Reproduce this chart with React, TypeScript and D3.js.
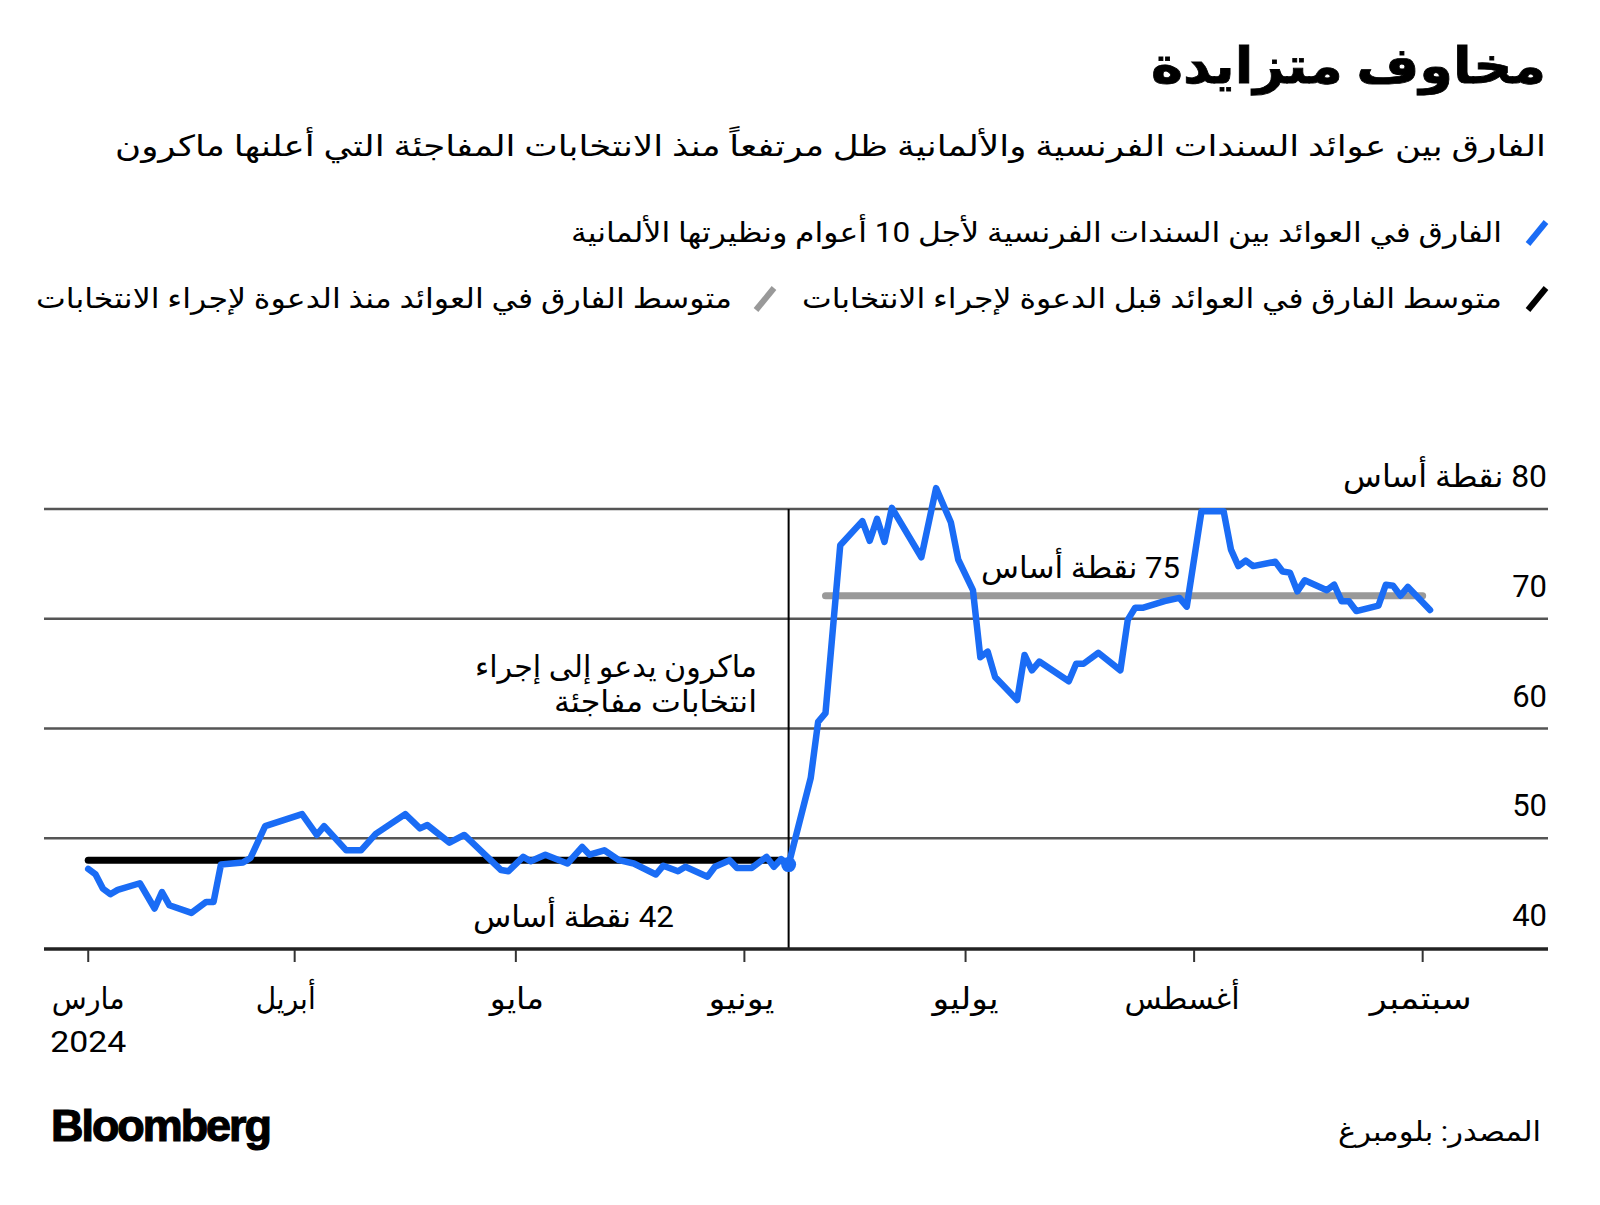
import React from "react";
import * as d3 from "d3";

// ---- data ----
const dates = [
  "2024-03-04","2024-03-05","2024-03-06","2024-03-07","2024-03-08","2024-03-11","2024-03-13","2024-03-14",
  "2024-03-15","2024-03-18","2024-03-20","2024-03-21","2024-03-22","2024-03-25","2024-03-26","2024-03-28",
  "2024-04-02","2024-04-04","2024-04-05","2024-04-08","2024-04-10","2024-04-12","2024-04-16","2024-04-18",
  "2024-04-19","2024-04-22","2024-04-24","2024-04-29","2024-04-30","2024-05-02","2024-05-03","2024-05-05",
  "2024-05-08","2024-05-10","2024-05-11","2024-05-13","2024-05-15","2024-05-17","2024-05-20","2024-05-21",
  "2024-05-23","2024-05-24","2024-05-27","2024-05-28","2024-05-30","2024-05-31","2024-06-02","2024-06-04",
  "2024-06-05","2024-06-06","2024-06-07","2024-06-10","2024-06-11","2024-06-12","2024-06-14","2024-06-17",
  "2024-06-18","2024-06-19","2024-06-20","2024-06-21","2024-06-25","2024-06-27","2024-06-29","2024-06-30",
  "2024-07-02","2024-07-03","2024-07-04","2024-07-05","2024-07-08","2024-07-09","2024-07-10","2024-07-11",
  "2024-07-15","2024-07-16","2024-07-17","2024-07-19","2024-07-22","2024-07-23","2024-07-24","2024-07-25",
  "2024-07-28","2024-07-30","2024-07-31","2024-08-02","2024-08-05","2024-08-06","2024-08-07","2024-08-08",
  "2024-08-09","2024-08-12","2024-08-13","2024-08-14","2024-08-15","2024-08-16","2024-08-19","2024-08-20",
  "2024-08-21","2024-08-22","2024-08-23","2024-08-26","2024-08-27","2024-08-28","2024-08-29","2024-08-30",
  "2024-09-02",
];
const spread = [
  47.2,46.7,45.4,44.9,45.3,45.9,43.6,45.1,
  43.9,43.2,44.2,44.2,47.6,47.8,48.2,51.1,
  52.2,50.3,51.1,48.9,48.9,50.4,52.2,50.9,
  51.2,49.6,50.3,47.1,47.0,48.3,47.9,48.5,
  47.7,49.2,48.5,48.9,48.0,47.7,46.7,47.5,
  47.0,47.4,46.5,47.4,48.0,47.3,47.3,48.3,
  47.4,48.1,47.6,55.5,60.6,61.4,76.7,78.9,
  77.1,79.1,77.0,80.1,75.6,81.9,78.8,75.4,
  72.6,66.5,67.0,64.7,62.6,66.7,65.3,66.1,
  64.3,65.9,65.9,66.9,65.3,69.9,71.0,71.0,
  71.6,71.9,71.1,79.8,79.8,76.3,74.8,75.3,
  74.8,75.2,74.3,74.2,72.5,73.5,72.6,73.1,
  71.6,71.6,70.7,71.2,73.1,73.0,72.1,72.9,
  70.8,
];

const preAvgRange = ["2024-03-04", "2024-06-06"];
const preAvgValue = 48.0;
const postAvgRange = ["2024-06-12", "2024-09-01"];
const postAvgValue = 72.1;
const eventDate = "2024-06-07";

const yTicks = [40, 50, 60, 70, 80];
const yTickLabels = ["40", "50", "60", "70", "80 نقطة أساس"];
const monthTickDates = ["2024-03-04","2024-04-01","2024-05-01","2024-06-01","2024-07-01","2024-08-01","2024-09-01"];
const monthLabels = ["مارس","أبريل","مايو","يونيو","يوليو","أغسطس","سبتمبر"];

const title = "مخاوف متزايدة";
const subtitle = "الفارق بين عوائد السندات الفرنسية والألمانية ظل مرتفعاً منذ الانتخابات المفاجئة التي أعلنها ماكرون";
const legendSpread = "الفارق في العوائد بين السندات الفرنسية لأجل 10 أعوام ونظيرتها الألمانية";
const legendPre = "متوسط الفارق في العوائد قبل الدعوة لإجراء الانتخابات";
const legendPost = "متوسط الفارق في العوائد منذ الدعوة لإجراء الانتخابات";
const annotLines = ["ماكرون يدعو إلى إجراء", "انتخابات مفاجئة"];
const preAvgLabel = "42 نقطة أساس";
const postAvgLabel = "75 نقطة أساس";
const source = "المصدر: بلومبرغ";

// ---- styles ----
const BLUE = "#1a6cf5";
const GRAY = "#999999";
const FONT = 'Roboto, "DejaVu Sans", sans-serif';
const monthLabelWidths = [73, 60, 54, 66, 66, 115, 102];
const monthLabelDx = [0, -9, 1, -3, 0, -12, -2];

const parse = d3.utcParse("%Y-%m-%d");

function RText(props: any) {
  const { x, y, size, len, weight, anchor, children, fill, stroke } = props;
  return (
    <text
      x={x}
      y={y}
      fontSize={size}
      fontWeight={weight || 400}
      fill={fill || "#000"}
      stroke={stroke ? "#000" : undefined}
      strokeWidth={stroke || undefined}
      textAnchor={anchor || "start"}
      textLength={len}
      lengthAdjust="spacingAndGlyphs"
      style={{ direction: "rtl", unicodeBidi: "embed", fontFamily: FONT }}
    >
      {children}
    </text>
  );
}

function Slash({ x, y, color }: any) {
  return (
    <line x1={x} y1={y + 11} x2={x + 18} y2={y - 11} stroke={color} strokeWidth={6} />
  );
}

export default function App() {
  const W = 1600, H = 1205;
  const left = 44, right = 1548, top = 509, bottom = 948;

  const x = d3.scaleUtc().domain([parse("2024-02-27")!, parse("2024-09-18")!]).range([left, right]);
  const y = d3.scaleLinear().domain([40, 80]).range([bottom, top]);

  const pts = dates.map((d, i) => ({ d: parse(d)!, v: spread[i] }));
  const line = d3.line<any>().x((p) => x(p.d)).y((p) => y(p.v));
  const last = pts.find((p) => +p.d === +parse(eventDate)!)!;
  const ex = x(parse(eventDate)!);

  return (
    <svg width={W} height={H} style={{ position: "absolute", left: 0, top: 0, background: "#fff" }}>
      <rect width={W} height={H} fill="#fff" />
      {/* Title & subtitle */}
      <RText x={1546} y={83} size={50} weight={700} len={395} stroke={0.8}>{title}</RText>
      <RText x={1546} y={156} size={29} len={1431}>{subtitle}</RText>

      {/* Legend */}
      <Slash x={1528} y={233} color={BLUE} />
      <RText x={1502} y={242} size={28} len={931}>{legendSpread}</RText>
      <Slash x={1528} y={299} color="#000" />
      <RText x={1502} y={308} size={28} len={700}>{legendPre}</RText>
      <Slash x={756} y={299} color={GRAY} />
      <RText x={732} y={308} size={28} len={696}>{legendPost}</RText>

      {/* Gridlines */}
      {yTicks.map((t, i) =>
        i === 0 ? null : (
          <line key={t} x1={left} x2={right} y1={y(t)} y2={y(t)} stroke="#555" strokeWidth={2.6} />
        )
      )}
      {yTicks.map((t, i) => (
        <RText key={"l" + t} x={1547} y={y(t) - 22} size={31} len={i === 4 ? 204 : undefined}>
          {yTickLabels[i]}
        </RText>
      ))}

      {/* event line */}
      <line x1={ex} x2={ex} y1={y(80)} y2={bottom} stroke="#000" strokeWidth={2} />

      {/* average lines */}
      <line
        x1={x(parse(preAvgRange[0])!)} x2={x(parse(preAvgRange[1])!)}
        y1={y(preAvgValue)} y2={y(preAvgValue)}
        stroke="#000" strokeWidth={7} strokeLinecap="round"
      />
      <line
        x1={x(parse(postAvgRange[0])!)} x2={x(parse(postAvgRange[1])!)}
        y1={y(postAvgValue)} y2={y(postAvgValue)}
        stroke={GRAY} strokeWidth={7} strokeLinecap="round"
      />

      {/* spread line */}
      <path d={line(pts)!} fill="none" stroke={BLUE} strokeWidth={6.5} strokeLinejoin="round" strokeLinecap="round" />
      <circle cx={x(last.d)} cy={y(last.v)} r={7.5} fill={BLUE} />

      {/* x axis */}
      <line x1={left} x2={right} y1={bottom + 1} y2={bottom + 1} stroke="#222" strokeWidth={3.5} />
      {monthTickDates.map((d, i) => {
        const tx = x(parse(d)!);
        return (
          <g key={d}>
            <line x1={tx} x2={tx} y1={bottom + 2} y2={bottom + 14} stroke="#333" strokeWidth={2} />
            <RText x={tx + monthLabelDx[i]} y={1009} size={30} anchor="middle" len={monthLabelWidths[i]}>
              {monthLabels[i]}
            </RText>
          </g>
        );
      })}
      <text x={x(parse(monthTickDates[0])!)} y={1052} fontSize={30} textAnchor="middle"
        textLength={76} lengthAdjust="spacingAndGlyphs" style={{ fontFamily: FONT }}>2024</text>

      {/* annotations */}
      <RText x={757} y={677} size={30} len={282}>{annotLines[0]}</RText>
      <RText x={757} y={712} size={30} len={203}>{annotLines[1]}</RText>
      <RText x={674} y={927} size={30} len={201}>{preAvgLabel}</RText>
      <RText x={1180} y={578} size={30} len={199}>{postAvgLabel}</RText>

      {/* footer */}
      <text x={51} y={1141} fontSize={45} fontWeight={700} textLength={219} lengthAdjust="spacingAndGlyphs"
        stroke="#000" strokeWidth={1.2}
        style={{ fontFamily: '"Liberation Sans", Arial, sans-serif', letterSpacing: -2 }}>Bloomberg</text>
      <RText x={1541} y={1141} size={28} len={203}>{source}</RText>
    </svg>
  );
}
